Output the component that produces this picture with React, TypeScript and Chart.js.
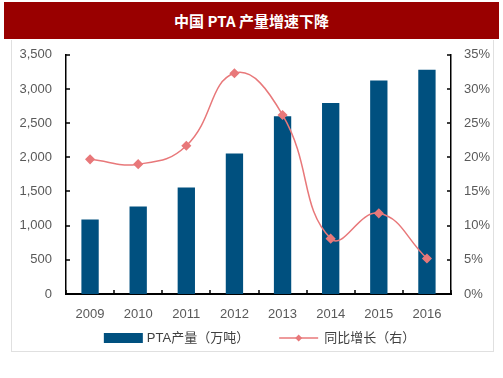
import React, { useEffect, useRef } from "react";
import { Chart, registerables } from "chart.js";

Chart.register(...registerables);

const categories = ["2009", "2010", "2011", "2012", "2013", "2014", "2015", "2016"];
const outputValues = [1090, 1280, 1560, 2055, 2600, 2795, 3125, 3280];
const growthValues = [19.7, 19.0, 21.7, 32.3, 26.2, 8.1, 11.8, 5.2];
const barLabel = "PTA产量（万吨）";
const lineLabel = "同比增长（右）";
const titleText = "中国 PTA 产量增速下降";

const BAR_COLOR = "#00507F";
const LINE_COLOR = "#E8787A";
const AXIS_COLOR = "#000000";
const TEXT_COLOR = "#595959";
const LEGEND_COLOR = "#404040";
const FONT = "'Liberation Sans', 'Noto Sans CJK SC', sans-serif";

const innerTicks = {
  id: "innerTicks",
  afterDatasetsDraw(chart: any) {
    const ctx = chart.ctx;
    const { left, right, bottom } = chart.chartArea;
    const len = 4;
    ctx.save();
    ctx.strokeStyle = AXIS_COLOR;
    ctx.lineWidth = 1.5;
    ctx.beginPath();
    const y = chart.scales.y;
    y.ticks.forEach((_t: any, i: number) => {
      const py = Math.round(y.getPixelForTick(i));
      ctx.moveTo(left, py);
      ctx.lineTo(left + len, py);
    });
    const y1 = chart.scales.y1;
    y1.ticks.forEach((_t: any, i: number) => {
      const py = Math.round(y1.getPixelForTick(i));
      ctx.moveTo(right, py);
      ctx.lineTo(right - len, py);
    });
    const x = chart.scales.x;
    for (let i = 0; i <= categories.length; i++) {
      const px = Math.round(x.getPixelForValue(i - 0.5));
      ctx.moveTo(px, bottom);
      ctx.lineTo(px, bottom - len);
    }
    ctx.stroke();
    ctx.restore();
  },
};

const customLegend = {
  id: "customLegend",
  afterDraw(chart: any) {
    const ctx = chart.ctx;
    const ds = chart.data.datasets;
    const swW = 39;
    const swGap = 4;
    const itemGap = 30;
    ctx.save();
    ctx.font = "13px " + FONT;
    const w0 = ctx.measureText(ds[0].label).width;
    const w1 = ctx.measureText(ds[1].label).width;
    const total = swW + swGap + w0 + itemGap + swW + swGap + w1;
    const { left, right } = chart.chartArea;
    let x = (left + right) / 2 - total / 2;
    const cy = chart.height - 13;
    ctx.fillStyle = ds[0].backgroundColor;
    ctx.fillRect(x, cy - 5, swW, 10);
    x += swW + swGap;
    ctx.fillStyle = LEGEND_COLOR;
    ctx.textBaseline = "middle";
    ctx.textAlign = "left";
    ctx.fillText(ds[0].label, x, cy);
    x += w0 + itemGap;
    ctx.strokeStyle = ds[1].borderColor;
    ctx.lineWidth = 1.5;
    ctx.beginPath();
    ctx.moveTo(x, cy);
    ctx.lineTo(x + swW, cy);
    ctx.stroke();
    ctx.fillStyle = ds[1].borderColor;
    const mx = x + swW / 2;
    ctx.beginPath();
    ctx.moveTo(mx, cy - 3.5);
    ctx.lineTo(mx + 3.5, cy);
    ctx.lineTo(mx, cy + 3.5);
    ctx.lineTo(mx - 3.5, cy);
    ctx.closePath();
    ctx.fill();
    x += swW + swGap + 2;
    ctx.fillStyle = LEGEND_COLOR;
    ctx.fillText(ds[1].label, x, cy);
    ctx.restore();
  },
};

export default function App() {
  const ref = useRef<HTMLCanvasElement>(null);

  useEffect(() => {
    document.body.style.margin = "0";
    Chart.defaults.font.family = FONT;
    const chart = new Chart(ref.current!, {
      type: "bar",
      data: {
        labels: categories,
        datasets: [
          {
            type: "bar",
            label: barLabel,
            data: outputValues,
            backgroundColor: BAR_COLOR,
            yAxisID: "y",
            categoryPercentage: 1,
            barPercentage: 0.36,
            order: 1,
          },
          {
            type: "line",
            label: lineLabel,
            data: growthValues,
            borderColor: LINE_COLOR,
            backgroundColor: LINE_COLOR,
            borderWidth: 1.5,
            pointStyle: "rectRot",
            pointRadius: 4,
            tension: 0.45,
            yAxisID: "y1",
            order: 0,
          } as any,
        ],
      },
      options: {
        animation: false,
        responsive: false,
        devicePixelRatio: 1,
        layout: { padding: { top: 7, bottom: 28, left: 0, right: 0 } },
        plugins: {
          title: { display: false },
          tooltip: { enabled: false },
          legend: { display: false },
        },
        scales: {
          x: {
            grid: { display: false, drawTicks: false },
            border: { display: true, color: AXIS_COLOR, width: 2 },
            ticks: { color: TEXT_COLOR, font: { size: 13 }, padding: 13, maxRotation: 0 },
            afterFit: (s: any) => {
              s.height = 29;
            },
          },
          y: {
            position: "left",
            min: 0,
            max: 3500,
            grid: { display: false, drawTicks: false },
            border: { display: true, color: AXIS_COLOR, width: 1.5 },
            ticks: { stepSize: 500, color: TEXT_COLOR, font: { size: 13 }, padding: 14 },
            afterFit: (s: any) => {
              s.width = 54;
            },
          },
          y1: {
            position: "right",
            min: 0,
            max: 35,
            grid: { display: false, drawTicks: false },
            border: { display: true, color: AXIS_COLOR, width: 1.5 },
            ticks: { stepSize: 5, color: TEXT_COLOR, font: { size: 13 }, padding: 13, callback: (v: any) => v + "%" },
            afterFit: (s: any) => {
              s.width = 42;
            },
          },
        },
      },
      plugins: [innerTicks, customLegend],
    });
    return () => chart.destroy();
  }, []);

  return (
    <div style={{ position: "absolute", left: 0, top: 0, width: 503, height: 378, background: "#fff" }}>
      <div
        style={{
          position: "absolute",
          left: 11,
          top: 40,
          width: 481,
          height: 311,
          border: "1px solid #e0e0e0",
          borderTop: "none",
        }}
      />
      <canvas
        ref={ref}
        width={481}
        height={318}
        style={{ position: "absolute", left: 12, top: 33, display: "block", width: 481, height: 318 }}
      />
      <div
        style={{
          position: "absolute",
          left: 4,
          top: 2,
          width: 495,
          height: 37,
          background: "#990000",
          color: "#fff",
          fontFamily: "'Noto Sans CJK SC', sans-serif",
          fontWeight: "bold",
          fontSize: 15,
          lineHeight: "37px",
          textAlign: "center",
        }}
      >
        {titleText}
      </div>
    </div>
  );
}
